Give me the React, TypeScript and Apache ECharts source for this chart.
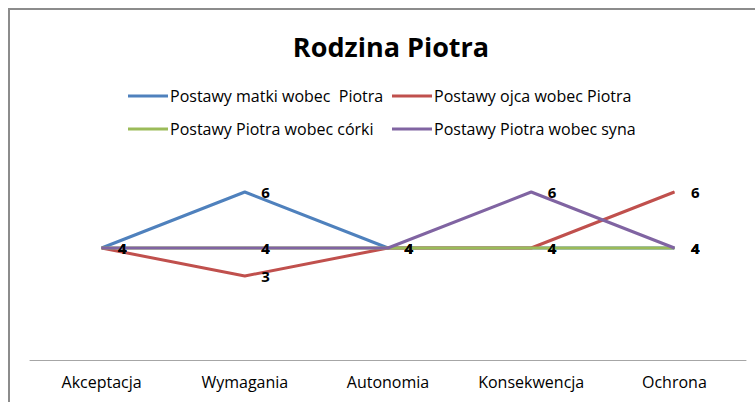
import React, { useEffect, useRef } from "react";
import * as echarts from "echarts";

const categories = ["Akceptacja", "Wymagania", "Autonomia", "Konsekwencja", "Ochrona"];
const seriesNames = [
  "Postawy matki wobec  Piotra",
  "Postawy ojca wobec Piotra",
  "Postawy Piotra wobec córki",
  "Postawy Piotra wobec syna",
];
const matka = [4, 6, 4, 4, 4];
const ojciec = [4, 3, 4, 4, 6];
const corka = [4, 4, 4, 4, 4];
const syn = [4, 4, 4, 6, 4];
const colors = ["#4F81BD", "#C0504D", "#9BBB59", "#8064A2"];

const FONT = "Open Sans";

export default function App() {
  const ref = useRef<HTMLDivElement>(null);
  useEffect(() => {
    if (!ref.current) return;
    const chart = echarts.init(ref.current, undefined, { renderer: "svg" });
    const data = [matka, ojciec, corka, syn];
    const order = [0, 1, 3, 2];
    const series = order.map((i) => ({
      name: seriesNames[i],
      type: "line",
      data: data[i],
      symbol: "circle",
      symbolSize: 1,
      color: colors[i],
      lineStyle: { width: 3, color: colors[i] },
      label: {
        show: true,
        position: "right",
        distance: 16,
        color: "#000",
        fontSize: 15,
        fontWeight: "bold",
        fontFamily: FONT,
      },
      z: 2 + i,
    }));
    const legendPos = [
      { left: 128, top: 88 },
      { left: 392, top: 88 },
      { left: 128, top: 121 },
      { left: 392, top: 121 },
    ];
    chart.setOption({
      animation: false,
      backgroundColor: "#fff",
      color: colors,
      title: {
        text: "Rodzina Piotra",
        left: 386,
        textAlign: "center",
        top: 28,
        textStyle: { fontFamily: FONT, fontSize: 27, fontWeight: "bold", color: "#000" },
      },
      legend: legendPos.map((p, i) => ({
        left: p.left,
        top: p.top,
        padding: 0,
        data: [seriesNames[i]],
        icon: "rect",
        itemWidth: 40,
        itemHeight: 3,
        itemGap: 0,
        textStyle: { fontFamily: FONT, fontSize: 16, color: "#000", padding: [0, 0, 0, -3] },
      })),
      grid: { left: 30, right: 9, top: 164, bottom: 42 },
      xAxis: {
        type: "category",
        data: categories,
        boundaryGap: true,
        axisLine: { lineStyle: { color: "#a6a6a6", width: 1 } },
        axisTick: { show: false },
        axisLabel: { fontFamily: FONT, fontSize: 16, color: "#000", margin: 14 },
      },
      yAxis: {
        type: "value",
        min: 0,
        max: 7,
        show: false,
        splitLine: { show: false },
      },
      graphic: [
        {
          type: "rect",
          shape: { x: 9, y: 9, width: 800, height: 450 },
          style: { fill: "none", stroke: "#8c8c8c", lineWidth: 2 },
          silent: true,
        },
      ],
      series,
    });
    return () => chart.dispose();
  }, []);
  return (
    <div
      ref={ref}
      style={{ position: "absolute", left: 0, top: 0, width: 755, height: 402 }}
    />
  );
}
